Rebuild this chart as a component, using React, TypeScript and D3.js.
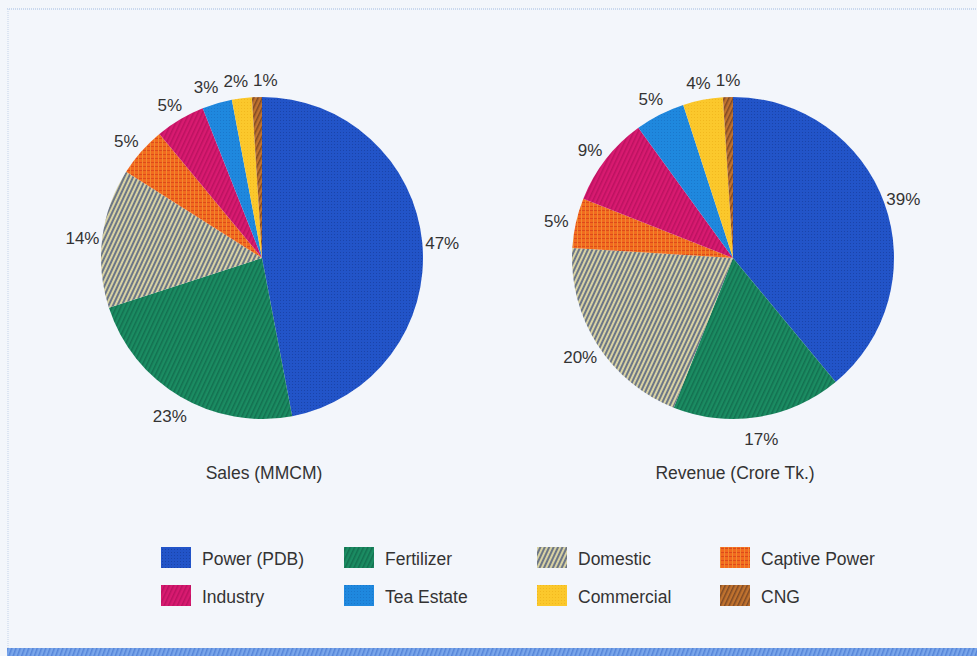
import React from "react";
import * as d3 from "d3";

const categories = ["Power (PDB)", "Fertilizer", "Domestic", "Captive Power", "Industry", "Tea Estate", "Commercial", "CNG"];
const salesValues = [47, 23, 14, 5, 5, 3, 2, 1];
const revenueValues = [39, 17, 20, 5, 9, 5, 4, 1];
const salesLabels = ["47%", "23%", "14%", "5%", "5%", "3%", "2%", "1%"];
const revenueLabels = ["39%", "17%", "20%", "5%", "9%", "5%", "4%", "1%"];
const chartTitles = ["Sales (MMCM)", "Revenue (Crore Tk.)"];

const W = 977;
const H = 656;
const FONT = "'Liberation Sans', Arial, Helvetica, sans-serif";
const R = 161;
const LABEL_R = 181;
const LABEL_FS = 17;

const fills = ["url(#pPower)", "url(#pFert)", "url(#pDom)", "url(#pCap)", "url(#pInd)", "url(#pTea)", "url(#pCom)", "url(#pCng)"];

function layoutLabels(arcs: d3.PieArcDatum<number>[], labels: string[]) {
  const labelArc = d3.arc<d3.PieArcDatum<number>>().innerRadius(LABEL_R).outerRadius(LABEL_R);
  const pts = arcs.map((a, i) => {
    const [x, y] = labelArc.centroid(a);
    return { x, y: y + 3, w: ((labels[i].length - 1) * 0.556 + 0.889) * LABEL_FS };
  });
  for (let it = 0; it < 120; it++) {
    for (let i = 0; i < pts.length; i++) {
      for (let j = i + 1; j < pts.length; j++) {
        const a = pts[i];
        const b = pts[j];
        if (Math.abs(a.y - b.y) < 16) {
          const need = (a.w + b.w) / 2 + 5;
          const dx = b.x - a.x;
          if (Math.abs(dx) < need) {
            const push = (need - Math.abs(dx)) / 2;
            const s = dx >= 0 ? 1 : -1;
            a.x -= s * push;
            b.x += s * push;
          }
        }
      }
    }
  }
  return pts;
}

function Pie({ cx, cy, values, labels, title }: { cx: number; cy: number; values: number[]; labels: string[]; title: string }) {
  const pie = d3.pie<number>().sort(null).value((d) => d);
  const arcs = pie(values);
  const arc = d3.arc<d3.PieArcDatum<number>>().innerRadius(0).outerRadius(R);
  const pts = layoutLabels(arcs, labels);
  return (
    <g>
      <g transform={`translate(${cx},${cy})`}>
        {arcs.map((a, i) => (
          <path key={i} d={arc(a) || ""} fill={fills[i]} stroke="none" />
        ))}
        {pts.map((p, i) => (
          <text key={"l" + i} x={p.x} y={p.y} textAnchor="middle" dominantBaseline="central" fontSize={LABEL_FS} fill="#333" fontFamily={FONT}>
            {labels[i]}
          </text>
        ))}
      </g>
      <text x={cx + 2} y={cy + 215} textAnchor="middle" dominantBaseline="central" fontSize={17.5} fill="#333" fontFamily={FONT}>
        {title}
      </text>
    </g>
  );
}

export default function App() {
  const legendCols = [161, 344, 537, 720];
  const legendRows = [547, 585];
  return (
    <svg width={W} height={H} style={{ position: "absolute", left: 0, top: 0 }} xmlns="http://www.w3.org/2000/svg">
      <defs>
        <pattern id="pPower" width="3" height="3" patternUnits="userSpaceOnUse">
          <rect width="3" height="3" fill="#2254c8" />
          <rect width="1" height="1" fill="#1a44aa" />
        </pattern>
        <pattern id="pFert" width="4" height="4" patternUnits="userSpaceOnUse" patternTransform="rotate(25)">
          <rect width="4" height="4" fill="#1b8c62" />
          <rect width="1.5" height="4" fill="#137050" />
        </pattern>
        <pattern id="pDom" width="4" height="4" patternUnits="userSpaceOnUse" patternTransform="rotate(25)">
          <rect width="4" height="4" fill="#d8d2a4" />
          <rect width="2" height="4" fill="#6c7686" />
        </pattern>
        <pattern id="pCap" width="4" height="4" patternUnits="userSpaceOnUse">
          <rect width="4" height="4" fill="#f36a1e" />
          <rect width="4" height="1" fill="#dc4a1c" />
          <rect width="1" height="4" fill="#f08a30" />
        </pattern>
        <pattern id="pInd" width="4" height="4" patternUnits="userSpaceOnUse" patternTransform="rotate(25)">
          <rect width="4" height="4" fill="#d81a70" />
          <rect width="1.5" height="4" fill="#bb1260" />
        </pattern>
        <pattern id="pTea" width="3" height="3" patternUnits="userSpaceOnUse">
          <rect width="3" height="3" fill="#1f88de" />
          <rect width="1" height="1" fill="#1a78cc" />
        </pattern>
        <pattern id="pCom" width="3" height="3" patternUnits="userSpaceOnUse">
          <rect width="3" height="3" fill="#fbc82c" />
          <rect width="1" height="1" fill="#f2b81e" />
        </pattern>
        <pattern id="pCng" width="4" height="4" patternUnits="userSpaceOnUse" patternTransform="rotate(25)">
          <rect width="4" height="4" fill="#c0722e" />
          <rect width="1.5" height="4" fill="#7e4a26" />
        </pattern>
        <pattern id="pBand" width="4" height="8" patternUnits="userSpaceOnUse" patternTransform="rotate(20)">
          <rect width="4" height="8" fill="#7aa6ea" />
          <rect width="1.5" height="8" fill="#5585d8" />
        </pattern>
      </defs>
      <rect x={0} y={0} width={W} height={H} fill="#f3f6fb" />
      <line x1={7} y1={9} x2={W} y2={9} stroke="#c9d8ee" strokeWidth={2} strokeDasharray="1 1" />
      <line x1={8} y1={9} x2={8} y2={648} stroke="#d3def0" strokeWidth={1.5} strokeDasharray="1 1" />
      <rect x={7} y={648} width={W - 7} height={8} fill="url(#pBand)" />

      <Pie cx={262} cy={258} values={salesValues} labels={salesLabels} title={chartTitles[0]} />
      <Pie cx={733} cy={258} values={revenueValues} labels={revenueLabels} title={chartTitles[1]} />

      {categories.map((c, i) => {
        const col = i % 4;
        const row = Math.floor(i / 4);
        const x = legendCols[col];
        const y = legendRows[row];
        return (
          <g key={c}>
            <rect x={x} y={y} width={30} height={21} fill={fills[i]} />
            <text x={x + 41} y={y + 11.5} dominantBaseline="central" fontSize={17.5} fill="#333" fontFamily={FONT}>
              {c}
            </text>
          </g>
        );
      })}
    </svg>
  );
}
